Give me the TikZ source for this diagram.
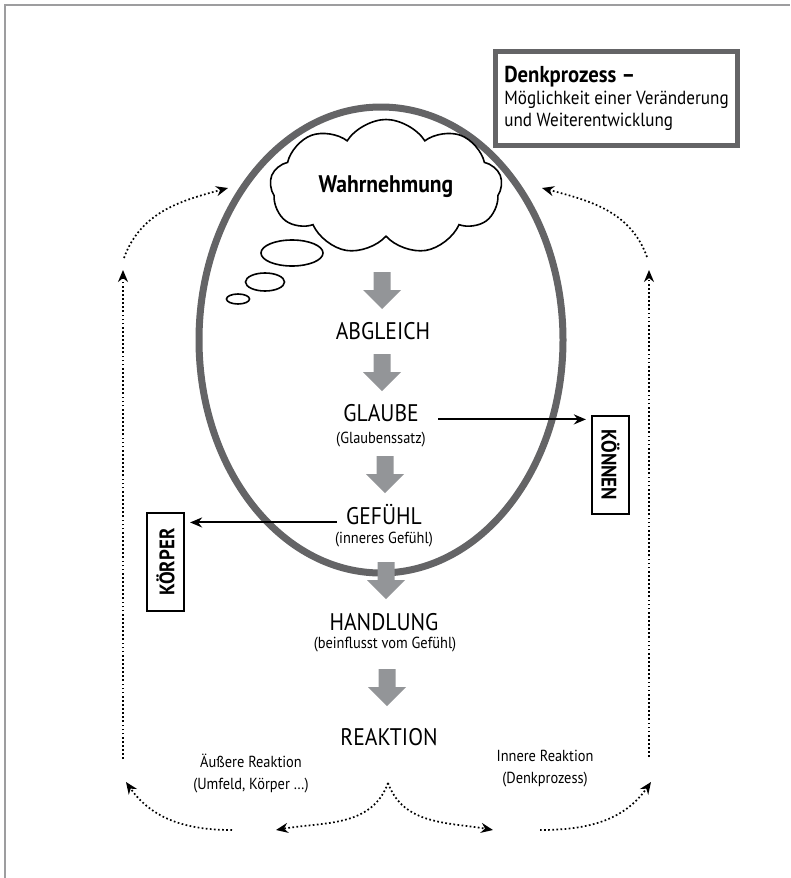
\documentclass[tikz,border=0pt]{standalone}
\usepackage{fontspec}
\setmainfont{PT Sans}[FakeStretch=0.9]
\usetikzlibrary{positioning,shapes.geometric,shapes.symbols,arrows.meta}

\definecolor{ringgray}{HTML}{646466}
\definecolor{arrowgray}{HTML}{939598}
\definecolor{framegray}{HTML}{9D9D9F}

\tikzset{
	stufe/.style={font=\fontsize{24}{28}\selectfont},
	notiz/.style={font=\fontsize{16}{22}\selectfont,align=center},
	wortbox/.style={draw,line width=2.2pt,font=\bfseries\fontsize{21}{24}\selectfont,minimum width=98pt,minimum height=37pt,inner sep=0pt},
	punkte/.style={line width=1.7pt,dash pattern=on 1.7pt off 2.4pt},
	pfeil/.style={line width=2pt},
	blockpfeil/.pic={\fill[arrowgray] (-8.5,0) -- (8.5,0) -- (8.5,18) -- (19,18) -- (0,37) -- (-19,18) -- (-8.5,18) -- cycle;}
}

\begin{document}
\begin{tikzpicture}[x=1pt,y=-1pt,>={Stealth[length=12pt,width=10pt]}]

\useasboundingbox (0,0) rectangle (790,878);
\draw [framegray,line width=2.5pt] (5,878) -- (5,5) -- (790,5);

\node [draw=ringgray,line width=7pt,ellipse,minimum width=364pt,minimum height=466pt] (ring) at (381,340) {};

\node [draw=ringgray,line width=5pt,minimum width=242pt,minimum height=94pt,align=left,font=\fontsize{19}{22}\selectfont] (denk) at (616.5,98.5) {{\bfseries\fontsize{23}{22}\selectfont Denkprozess –}\\Möglichkeit einer Veränderung\\und Weiterentwicklung};

\node [cloud,draw,fill=white,line width=1.6pt,cloud puffs=9,cloud puff arc=115,aspect=1.8,minimum width=232pt,minimum height=128pt,inner sep=0pt,font=\bfseries\fontsize{24}{26}\selectfont] (wahr) at (386,187) {Wahrnehmung};

\foreach \cx/\cy/\rx/\ry in {292/253/31/13,265/282/19.5/9,238/299/11.5/5}
	\draw [line width=1.6pt] (\cx,\cy) ellipse [x radius=\rx,y radius=\ry];

\foreach \x/\y in {382/272,382/354,385/456,386/562,387/669}
	\pic at (\x,\y) {blockpfeil};

\node [stufe] (abgl)     at (383,331)   {ABGLEICH};
\node [stufe] (glaube)   at (381,413.5) {GLAUBE};
\node [notiz] (glsub)    at (381,440)   {(Glaubenssatz)};
\node [stufe] (gefuehl)  at (384,515)   {GEFÜHL};
\node [notiz] (gefsub)   at (384,540)   {(inneres Gefühl)};
\node [stufe] (handlung) at (384,622)   {HANDLUNG};
\node [notiz] (handsub)  at (385,645)   {(beinflusst vom Gefühl)};
\node [stufe] (reaktion) at (389,737)   {REAKTION};

\node [notiz] (aussen) at (251,774) {Äußere Reaktion\\(Umfeld, Körper …)};
\node [notiz] (innen)  at (545,769) {Innere Reaktion\\(Denkprozess)};

\node [wortbox,rotate=-90] (koennen) at (610.5,465) {KÖNNEN};
\node [wortbox,rotate=90]  (koerper) at (165.5,562) {KÖRPER};

\draw [pfeil,->,shorten >=5pt] ([xshift=16pt]glaube.mid east) -- (glaube.mid east -| koennen.south);
\draw [pfeil,->,shorten >=5pt] ([xshift=-6pt]gefuehl.mid west) -- (gefuehl.mid west -| koerper.south);

% dotted loops
\coordinate (lb) at (123,759);
\coordinate (lt) at (123,270);
\coordinate (la) at (124,258);
\coordinate (lh) at (228,188);
\coordinate (rb) at (649,757);
\coordinate (rt) at (649,270);
\coordinate (ra) at (647,257);
\coordinate (rh) at (542,188);
\coordinate (ll) at (126,782);
\coordinate (lm) at (232,830);
\coordinate (mk) at (388,783);
\coordinate (ml) at (276,830);
\coordinate (mr) at (493,830);
\coordinate (rm) at (540,830);
\coordinate (rr) at (651,782);

\draw [punkte,->] (lb) -- (lt);
\draw [punkte,->] (la) to [out=70,in=195] (lh);
\draw [punkte,->] (rb) -- (rt);
\draw [punkte,->] (ra) to [out=110,in=-15] (rh);

\draw [punkte,->] (lm) to [out=180,in=-55] (ll);
\draw [punkte,->] (mk) to [out=-110,in=10] (ml);
\draw [punkte,->] (mk) to [out=-70,in=170] (mr);
\draw [punkte,->] (rm) to [out=0,in=235] (rr);

\end{tikzpicture}
\end{document}
